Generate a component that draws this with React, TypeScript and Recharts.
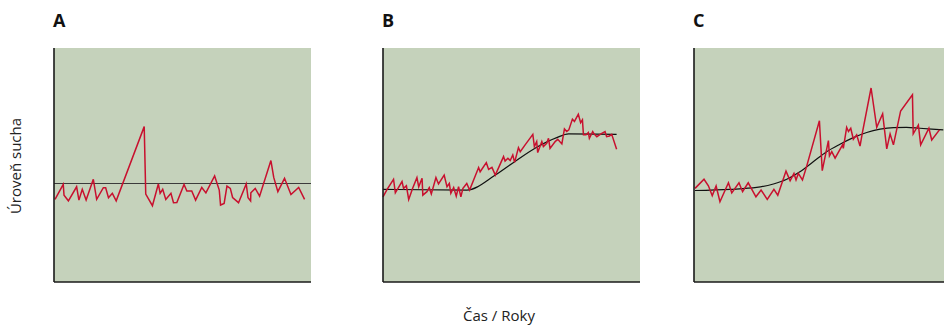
import { CartesianGrid, Line, LineChart, XAxis, YAxis } from "recharts";

interface Pt {
	x: number;
	y: number;
}

const PANEL_LABELS = ["A", "B", "C"];
const Y_LABEL = "Úroveň sucha";
const X_LABEL = "Čas / Roky";

// panel A: random noise around a constant level
const redA: Pt[] = [
	{ x: 0.4, y: 35.3 }, { x: 3.6, y: 41.7 }, { x: 3.9, y: 37.1 }, { x: 5.6, y: 34.7 },
	{ x: 8.8, y: 40.7 }, { x: 9.7, y: 35.0 }, { x: 11.0, y: 39.6 }, { x: 12.5, y: 35.0 },
	{ x: 15.3, y: 43.9 }, { x: 16.6, y: 35.3 }, { x: 19.2, y: 40.3 }, { x: 20.1, y: 40.3 },
	{ x: 21.2, y: 36.0 }, { x: 22.7, y: 37.9 }, { x: 24.2, y: 34.7 }, { x: 35.1, y: 66.4 },
	{ x: 35.7, y: 37.6 }, { x: 38.3, y: 32.6 }, { x: 40.6, y: 41.9 }, { x: 41.3, y: 37.9 },
	{ x: 42.3, y: 39.6 }, { x: 43.5, y: 35.3 }, { x: 45.5, y: 37.9 }, { x: 46.5, y: 33.9 },
	{ x: 47.8, y: 34.0 }, { x: 50.6, y: 41.7 }, { x: 51.7, y: 38.9 }, { x: 53.6, y: 38.9 },
	{ x: 55.1, y: 35.0 }, { x: 57.5, y: 40.4 }, { x: 59.1, y: 38.1 }, { x: 62.5, y: 45.3 },
	{ x: 64.3, y: 39.3 }, { x: 64.8, y: 32.9 }, { x: 66.2, y: 33.6 }, { x: 67.3, y: 41.0 },
	{ x: 68.6, y: 40.0 }, { x: 69.5, y: 36.1 }, { x: 71.8, y: 33.9 }, { x: 74.8, y: 41.9 },
	{ x: 75.5, y: 36.0 }, { x: 76.5, y: 34.6 }, { x: 76.6, y: 38.1 }, { x: 78.3, y: 40.0 },
	{ x: 80.0, y: 36.7 }, { x: 84.4, y: 51.9 }, { x: 85.5, y: 44.7 }, { x: 87.1, y: 38.6 },
	{ x: 89.7, y: 44.3 }, { x: 92.2, y: 37.4 }, { x: 95.2, y: 40.4 }, { x: 97.5, y: 35.3 },
];
const trendA: Pt[] = [
	{ x: 0, y: 42.1 },
	{ x: 100, y: 42.1 },
];

// panel B: gradual shift
const redB: Pt[] = [
	{ x: 0, y: 36.4 }, { x: 1.6, y: 39.6 }, { x: 4.1, y: 43.9 }, { x: 4.8, y: 38.1 },
	{ x: 7.4, y: 42.9 }, { x: 8.0, y: 40.0 }, { x: 9.1, y: 41.1 }, { x: 10.0, y: 35.3 },
	{ x: 11.5, y: 40.0 }, { x: 13.2, y: 44.6 }, { x: 13.9, y: 40.7 }, { x: 15.2, y: 44.3 },
	{ x: 15.5, y: 37.1 }, { x: 17.1, y: 38.6 }, { x: 18.0, y: 40.3 }, { x: 18.8, y: 37.6 },
	{ x: 20.6, y: 44.6 }, { x: 21.6, y: 41.9 }, { x: 23.8, y: 45.7 }, { x: 24.9, y: 40.7 },
	{ x: 25.8, y: 42.1 }, { x: 26.4, y: 37.9 }, { x: 27.5, y: 40.4 }, { x: 28.5, y: 36.7 },
	{ x: 29.4, y: 40.7 }, { x: 30.3, y: 36.4 }, { x: 31.1, y: 40.0 }, { x: 32.6, y: 42.1 },
	{ x: 33.7, y: 39.3 }, { x: 37.2, y: 48.9 }, { x: 37.8, y: 47.1 }, { x: 40.2, y: 51.0 },
	{ x: 41.1, y: 48.1 }, { x: 42.4, y: 49.0 }, { x: 43.7, y: 45.7 }, { x: 46.9, y: 53.6 },
	{ x: 47.5, y: 51.7 }, { x: 48.6, y: 52.9 }, { x: 49.5, y: 51.9 }, { x: 50.5, y: 54.3 },
	{ x: 51.2, y: 51.1 }, { x: 52.7, y: 57.4 }, { x: 53.4, y: 55.7 }, { x: 55.3, y: 58.6 },
	{ x: 58.3, y: 63.1 }, { x: 58.9, y: 57.9 }, { x: 59.8, y: 60.0 }, { x: 60.2, y: 55.3 },
	{ x: 61.8, y: 60.0 }, { x: 62.4, y: 57.9 }, { x: 63.7, y: 59.3 }, { x: 64.4, y: 61.4 },
	{ x: 65.0, y: 57.1 }, { x: 67.0, y: 60.0 }, { x: 68.0, y: 61.0 }, { x: 69.6, y: 59.0 },
	{ x: 70.6, y: 65.4 }, { x: 71.5, y: 64.3 }, { x: 72.3, y: 65.0 }, { x: 73.7, y: 69.6 },
	{ x: 74.5, y: 68.6 }, { x: 76.0, y: 71.7 }, { x: 76.9, y: 68.1 }, { x: 77.6, y: 69.3 },
	{ x: 78.0, y: 62.9 }, { x: 79.0, y: 62.9 }, { x: 79.9, y: 63.9 }, { x: 80.3, y: 61.4 },
	{ x: 81.6, y: 64.3 }, { x: 82.1, y: 63.3 }, { x: 83.2, y: 62.1 }, { x: 84.8, y: 63.3 },
	{ x: 86.4, y: 64.3 }, { x: 87.0, y: 62.1 }, { x: 88.1, y: 62.4 }, { x: 89.0, y: 63.1 },
	{ x: 90.9, y: 56.7 },
];
const trendB: Pt[] = [
	{ x: 0, y: 39.6 }, { x: 32.6, y: 39.3 }, { x: 43.7, y: 45.7 }, { x: 50.8, y: 51.1 },
	{ x: 59.8, y: 57.6 }, { x: 67.6, y: 61.7 }, { x: 72.2, y: 63.3 }, { x: 90.9, y: 63.1 },
];

// panel C: shift with growing variance
const redC: Pt[] = [
	{ x: 0.4, y: 40.0 }, { x: 3.9, y: 43.9 }, { x: 5.6, y: 41.1 }, { x: 7.1, y: 36.9 },
	{ x: 8.6, y: 41.0 }, { x: 10.1, y: 34.3 }, { x: 13.4, y: 42.4 }, { x: 14.7, y: 38.1 },
	{ x: 17.5, y: 42.4 }, { x: 18.9, y: 38.6 }, { x: 21.1, y: 42.4 }, { x: 24.1, y: 36.4 },
	{ x: 26.1, y: 39.3 }, { x: 28.5, y: 35.3 }, { x: 31.1, y: 39.6 }, { x: 32.6, y: 37.1 },
	{ x: 35.8, y: 47.4 }, { x: 37.4, y: 43.3 }, { x: 38.9, y: 46.4 }, { x: 39.7, y: 43.6 },
	{ x: 40.6, y: 46.4 }, { x: 42.2, y: 43.6 }, { x: 43.8, y: 49.3 }, { x: 48.8, y: 68.9 },
	{ x: 49.9, y: 47.6 }, { x: 52.3, y: 60.4 }, { x: 52.7, y: 53.9 }, { x: 53.6, y: 55.7 },
	{ x: 54.9, y: 52.9 }, { x: 57.8, y: 58.6 }, { x: 58.1, y: 57.1 }, { x: 59.4, y: 66.1 },
	{ x: 60.1, y: 64.3 }, { x: 61.0, y: 65.7 }, { x: 62.0, y: 61.0 }, { x: 63.3, y: 62.9 },
	{ x: 64.6, y: 58.1 }, { x: 65.6, y: 64.3 }, { x: 68.9, y: 82.9 }, { x: 71.1, y: 66.1 },
	{ x: 73.4, y: 71.9 }, { x: 75.0, y: 56.9 }, { x: 76.3, y: 63.3 }, { x: 77.6, y: 58.6 },
	{ x: 80.4, y: 73.1 }, { x: 85.0, y: 80.0 }, { x: 85.3, y: 63.3 }, { x: 87.3, y: 67.1 },
	{ x: 88.2, y: 58.6 }, { x: 91.4, y: 65.7 }, { x: 92.5, y: 60.7 }, { x: 95.5, y: 65.0 },
];
const trendC: Pt[] = [
	{ x: 0.4, y: 39.1 }, { x: 14.0, y: 39.6 }, { x: 24.4, y: 40.4 }, { x: 30.9, y: 41.9 },
	{ x: 36.1, y: 43.9 }, { x: 41.2, y: 47.1 }, { x: 46.4, y: 51.4 }, { x: 51.6, y: 55.7 },
	{ x: 56.8, y: 58.9 }, { x: 62.0, y: 61.7 }, { x: 67.2, y: 63.9 }, { x: 72.4, y: 65.3 },
	{ x: 77.6, y: 66.0 }, { x: 82.7, y: 66.1 }, { x: 87.9, y: 65.7 }, { x: 97.0, y: 65.0 },
];

const GREEN = "#c5d2bb";
const RED = "#c8102e";
const FONT = "'Open Sans', sans-serif";

const PLOT_W = 257;
const PLOT_H = 234;
const PAD = 2;

function Panel({
	left,
	red,
	trend,
	trendType,
	trendColor,
}: {
	left: number;
	red: Pt[];
	trend: Pt[];
	trendType: "linear" | "monotone";
	trendColor: string;
}): React.ReactElement {
	return (
		<div style={{ position: "absolute", left: left - PAD, top: 48 }}>
			<LineChart
				width={PLOT_W + PAD}
				height={PLOT_H + PAD}
				margin={{ top: 0, right: 0, bottom: 0, left: 0 }}
			>
				<CartesianGrid fill={GREEN} horizontal={false} vertical={false} />
				<XAxis
					type="number"
					dataKey="x"
					domain={[0, 100]}
					tick={false}
					tickLine={false}
					height={PAD}
					axisLine={{ stroke: "#1a1a1a", strokeWidth: 1.6 }}
					allowDuplicatedCategory={false}
				/>
				<YAxis
					type="number"
					domain={[0, 100]}
					tick={false}
					tickLine={false}
					width={PAD}
					axisLine={{ stroke: "#1a1a1a", strokeWidth: 1.6 }}
				/>
				<Line
					data={trend}
					dataKey="y"
					type={trendType}
					stroke={trendColor}
					strokeWidth={1.2}
					dot={false}
					isAnimationActive={false}
				/>
				<Line
					data={red}
					dataKey="y"
					type="linear"
					stroke={RED}
					strokeWidth={1.5}
					dot={false}
					isAnimationActive={false}
				/>
			</LineChart>
		</div>
	);
}

const PANEL_LEFTS = [54, 383, 694];

export default function App(): React.ReactElement {
	return (
		<div
			style={{
				position: "absolute",
				left: 0,
				top: 0,
				width: 944,
				height: 328,
				overflow: "hidden",
				background: "#fff",
				fontFamily: FONT,
			}}
		>
			{PANEL_LABELS.map((label, i) => (
				<div
					key={label}
					style={{
						position: "absolute",
						left: PANEL_LEFTS[i] - 1,
						top: 8,
						fontSize: 18,
						fontWeight: 700,
						lineHeight: "normal",
						color: "#111",
					}}
				>
					{label}
				</div>
			))}
			<Panel left={PANEL_LEFTS[0]} red={redA} trend={trendA} trendType="linear" trendColor="#3b3b3b" />
			<Panel left={PANEL_LEFTS[1]} red={redB} trend={trendB} trendType="monotone" trendColor="#111" />
			<Panel left={PANEL_LEFTS[2]} red={redC} trend={trendC} trendType="monotone" trendColor="#111" />
			<div
				style={{
					position: "absolute",
					left: 15,
					top: 166,
					transform: "translate(-50%, -50%) rotate(-90deg)",
					whiteSpace: "nowrap",
					fontSize: 15,
					color: "#222",
				}}
			>
				{Y_LABEL}
			</div>
			<div
				style={{
					position: "absolute",
					left: 463,
					top: 305,
					whiteSpace: "nowrap",
					fontSize: 15,
					lineHeight: "normal",
					color: "#222",
				}}
			>
				{X_LABEL}
			</div>
		</div>
	);
}
